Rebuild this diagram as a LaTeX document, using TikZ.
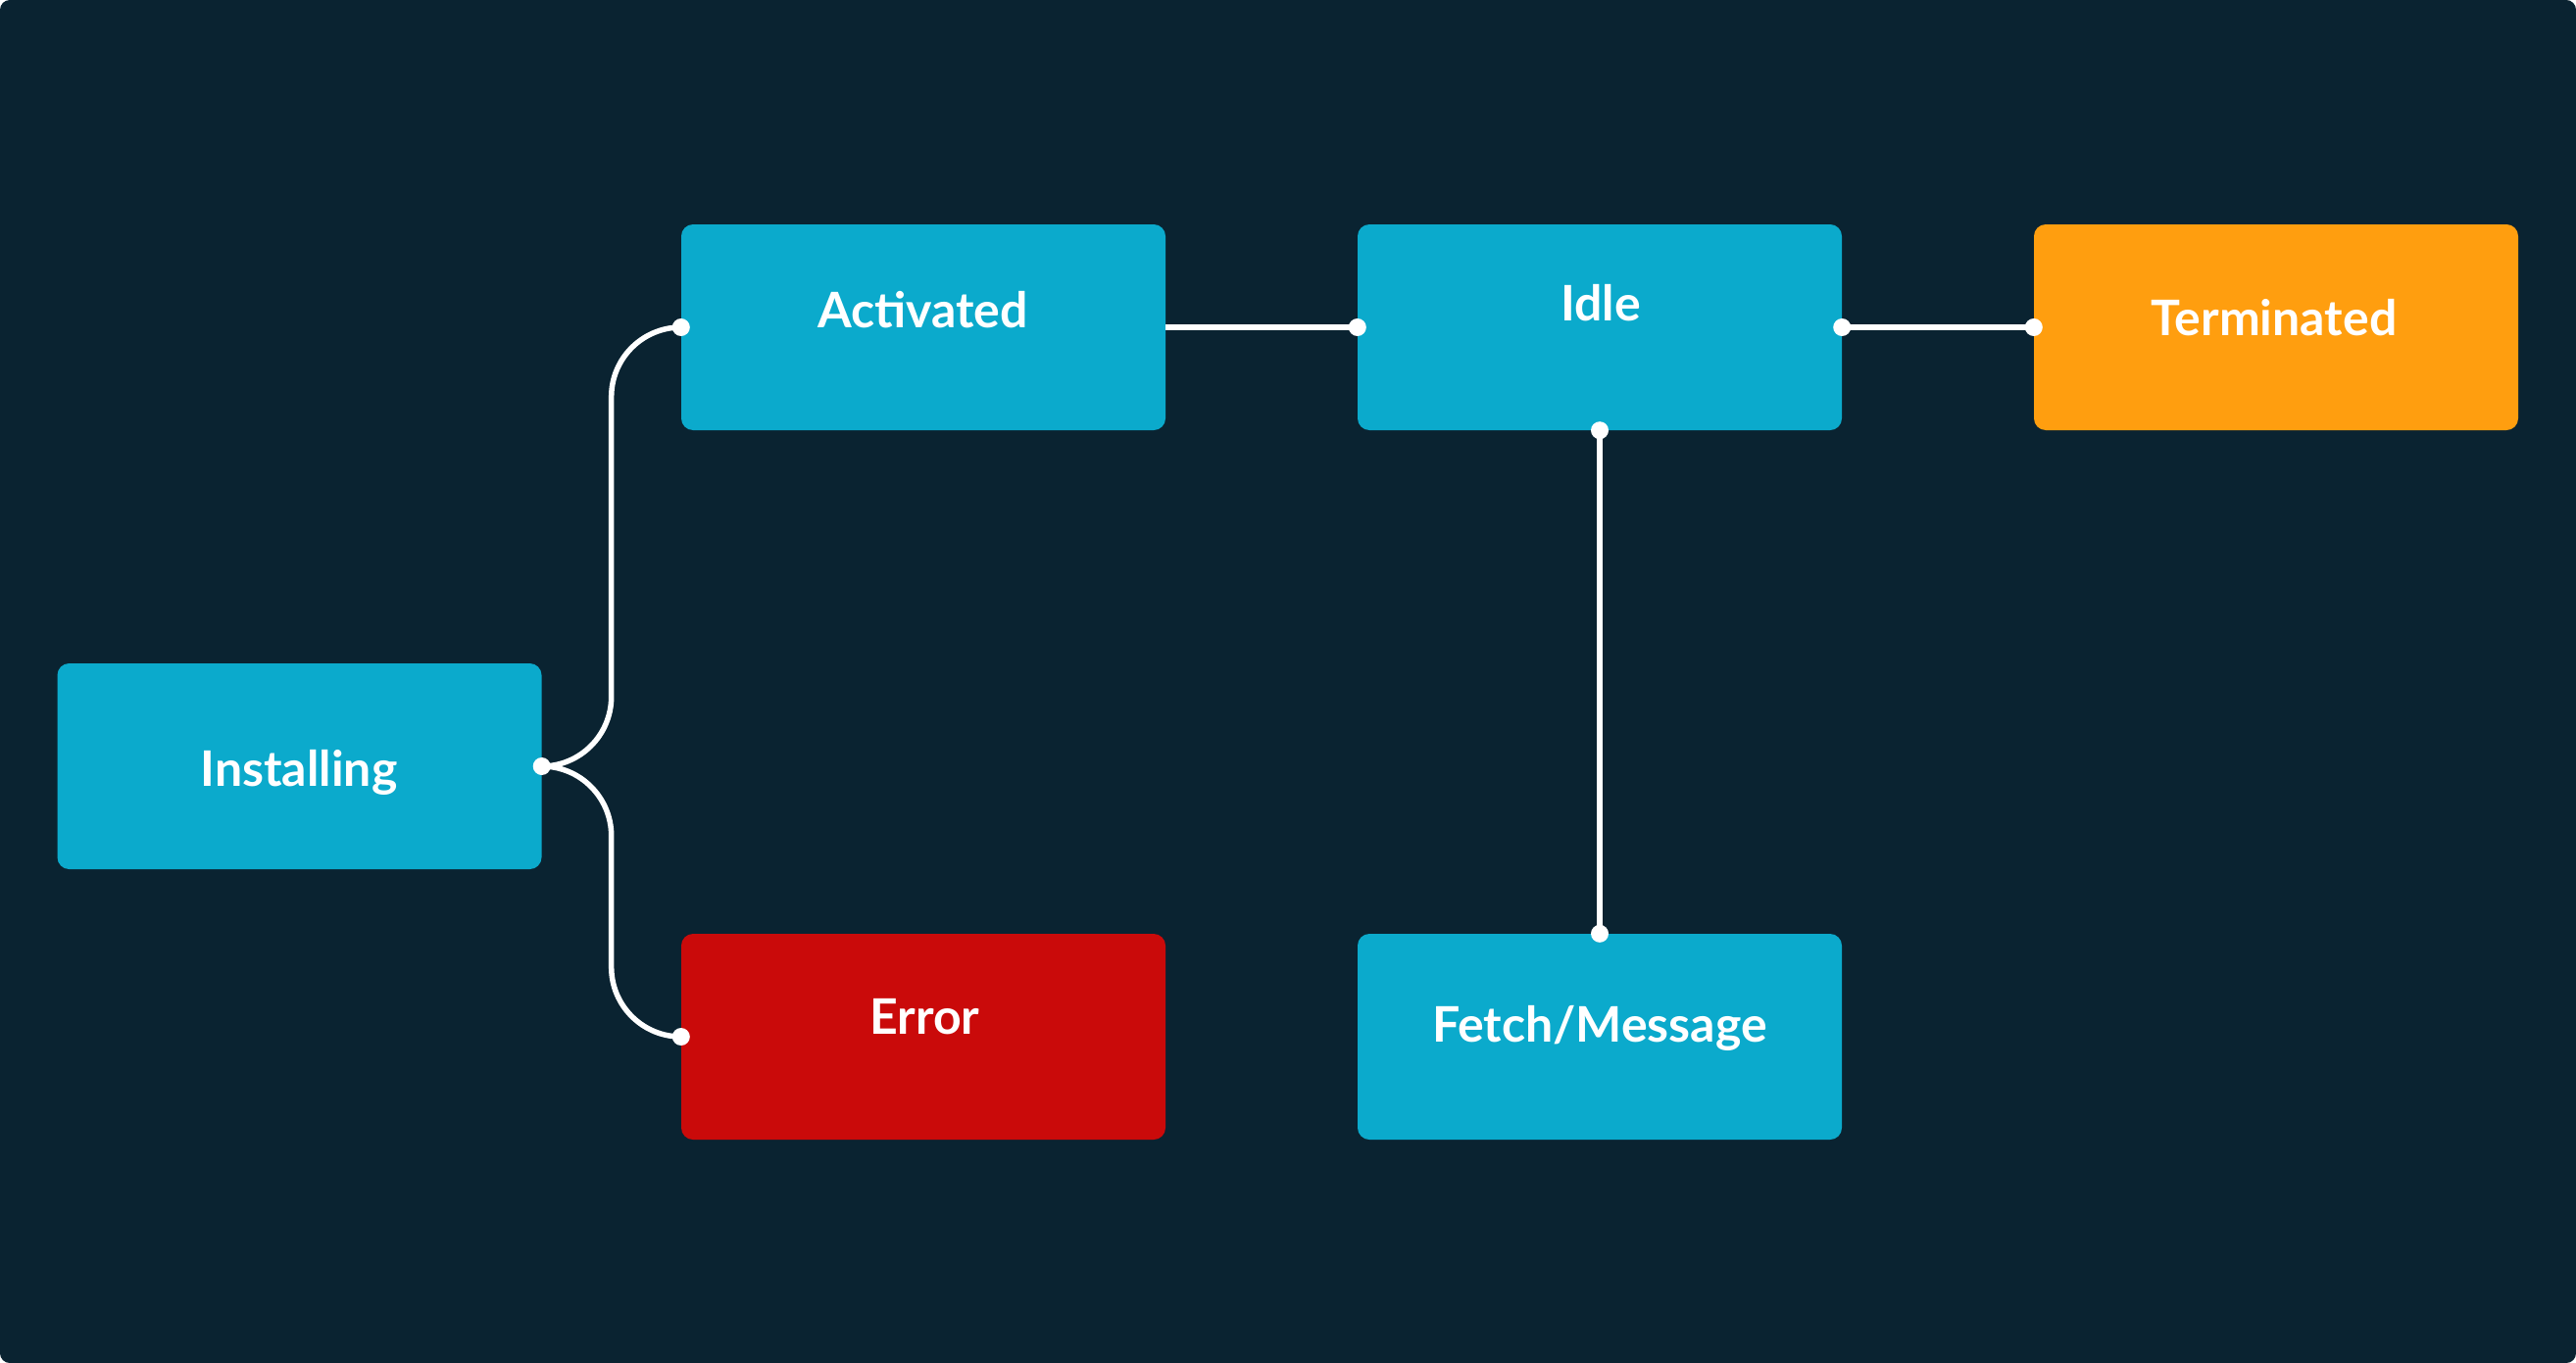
\documentclass[tikz,border=0pt]{standalone}
\usepackage{fontspec}
\setmainfont{Lato}
\definecolor{bgc}{HTML}{0A2331}
\definecolor{cyanbox}{HTML}{0BAACC}
\definecolor{redbox}{HTML}{CA0A0A}
\definecolor{orangebox}{HTML}{FF9E0F}
\tikzset{
  box/.style={rectangle, rounded corners=12pt, minimum width=494pt, minimum height=210pt, inner sep=0pt, draw=none},
  lbl/.style={anchor=base, inner sep=0pt, text=white, font=\fontsize{50}{56}\selectfont\bfseries},
  conn/.style={draw=white, line width=5.5pt},
  dotc/.style={fill=white},
}
\begin{document}
\begin{tikzpicture}[x=1pt,y=-1pt]
\useasboundingbox (0,0) rectangle (2628,1391);
\fill[white] (0,0) rectangle (2628,1391);
\fill[bgc, rounded corners=10pt] (0,0) rectangle (2628,1391);
% boxes
\node[box, fill=cyanbox] (act) at (942,334) {};
\node[box, fill=cyanbox] (idle) at (1632,334) {};
\node[box, fill=orangebox] (term) at (2322,334) {};
\node[box, fill=cyanbox] (inst) at (305.5,782) {};
\node[box, fill=redbox] (err) at (942,1058) {};
\node[box, fill=cyanbox] (fetch) at (1632,1058) {};
% labels
\node[lbl] (actl) at (941.5,334) {Activated};
\node[lbl] (idlel) at (1633,327) {Idle};
\node[lbl] (terml) at (2320,342) {Terminated};
\node[lbl] (instl) at (305,802) {Installing};
\node[lbl] (errl) at (943.5,1055) {Error};
\node[lbl] (fetchl) at (1632,1063) {Fetch/Message};
% connectors
\draw[conn, rounded corners=71pt] (inst.east) -- ++(71,0) |- (act.west);
\draw[conn, rounded corners=71pt] (inst.east) -- ++(71,0) |- (err.west);
\draw[conn] (act.east) -- (idle.west);
\draw[conn] (idle.east) -- (term.west);
\draw[conn] (idle.south) -- (fetch.north);
% dots
\fill[dotc] (inst.east) circle (9pt);
\fill[dotc] (act.west) circle (9pt);
\fill[dotc] (err.west) circle (9pt);
\fill[dotc] (idle.west) circle (9pt);
\fill[dotc] (idle.east) circle (9pt);
\fill[dotc] (term.west) circle (9pt);
\fill[dotc] (idle.south) circle (9pt);
\fill[dotc] (fetch.north) circle (9pt);
\end{tikzpicture}
\end{document}
